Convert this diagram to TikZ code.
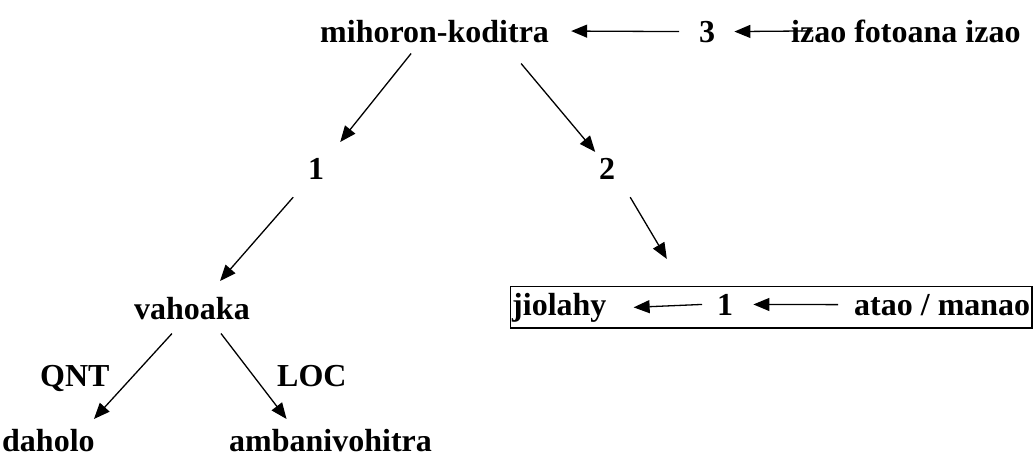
\documentclass[tikz,border=0pt]{standalone}
\usepackage{fontspec}
\setmainfont{Liberation Serif}
\usetikzlibrary{arrows.meta,fit}

\tikzset{
  lbl/.style={inner sep=0pt, anchor=base west, font=\fontsize{32}{36}\selectfont\bfseries},
  arr/.style={line width=1.3pt, -{Triangle[length=16pt,width=13pt]}}
}

\begin{document}
\begin{tikzpicture}[x=1pt, y=-1pt]
	\useasboundingbox (0,0) rectangle (1033,459); % Rand wie im Original

	% oberste Zeile
	\node[lbl] (mihoron) at (320,42) {mihoron-koditra};
	\node[lbl] (three) at (699,42) {3};
	\node[lbl] (izao) at (791,42) {izao fotoana izao};

	\draw[arr] ([xshift=-20pt]three.west) -- ([xshift=22pt]mihoron.east);
	\draw[arr] ([xshift=22pt]izao.west) -- ([xshift=19pt]three.east);

	\node[lbl] (one) at (308,179) {1};
	\node[lbl] (two) at (599,179) {2};

	\draw[arr] ([shift={(-23.5,11)}]mihoron.south) -- ([shift={(24,-15.7)}]one.north);
	\draw[arr] ([shift={(86.5,21)}]mihoron.south) -- ([shift={(-12,-5.7)}]two.north);

	% Kasten rechts
	\node[lbl] (jiolahy) at (512,315) {jiolahy};
	\node[lbl] (boxone) at (717,315) {1};
	\node[lbl] (atao) at (854,315) {atao / manao};
	\node[draw, line width=1.3pt, inner xsep=1.5pt, inner ysep=6pt, fit=(jiolahy)(atao)] (box) {};

	\draw[arr] ([xshift=-15pt]boxone.west) -- ([xshift=27pt]jiolahy.east);
	\draw[arr] ([xshift=-16pt]atao.west) -- ([xshift=20pt]boxone.east);

	\node[lbl] (vahoaka) at (134,319) {vahoaka};

	\draw[arr] ([shift={(-23,18)}]one.south) -- ([shift={(28,-15.6)}]vahoaka.north);
	\draw[arr] ([shift={(23,18)}]two.south) -- ([shift={(157,-27)}]box.north west);

	% unten
	\node[lbl] (qnt) at (40,386) {QNT};
	\node[lbl] (loc) at (277,386) {LOC};
	\node[lbl] (daholo) at (2,451) {daholo};
	\node[lbl] (ambani) at (229,451) {ambanivohitra};

	\draw[arr] ([shift={(-20,14)}]vahoaka.south) -- ([shift={(45.5,-9.6)}]daholo.north);
	\draw[arr] ([shift={(29,14)}]vahoaka.south) -- ([shift={(-44,-9.6)}]ambani.north);

	%\draw[help lines, step=50] (0,0) grid (1033,459);
\end{tikzpicture}
\end{document}
